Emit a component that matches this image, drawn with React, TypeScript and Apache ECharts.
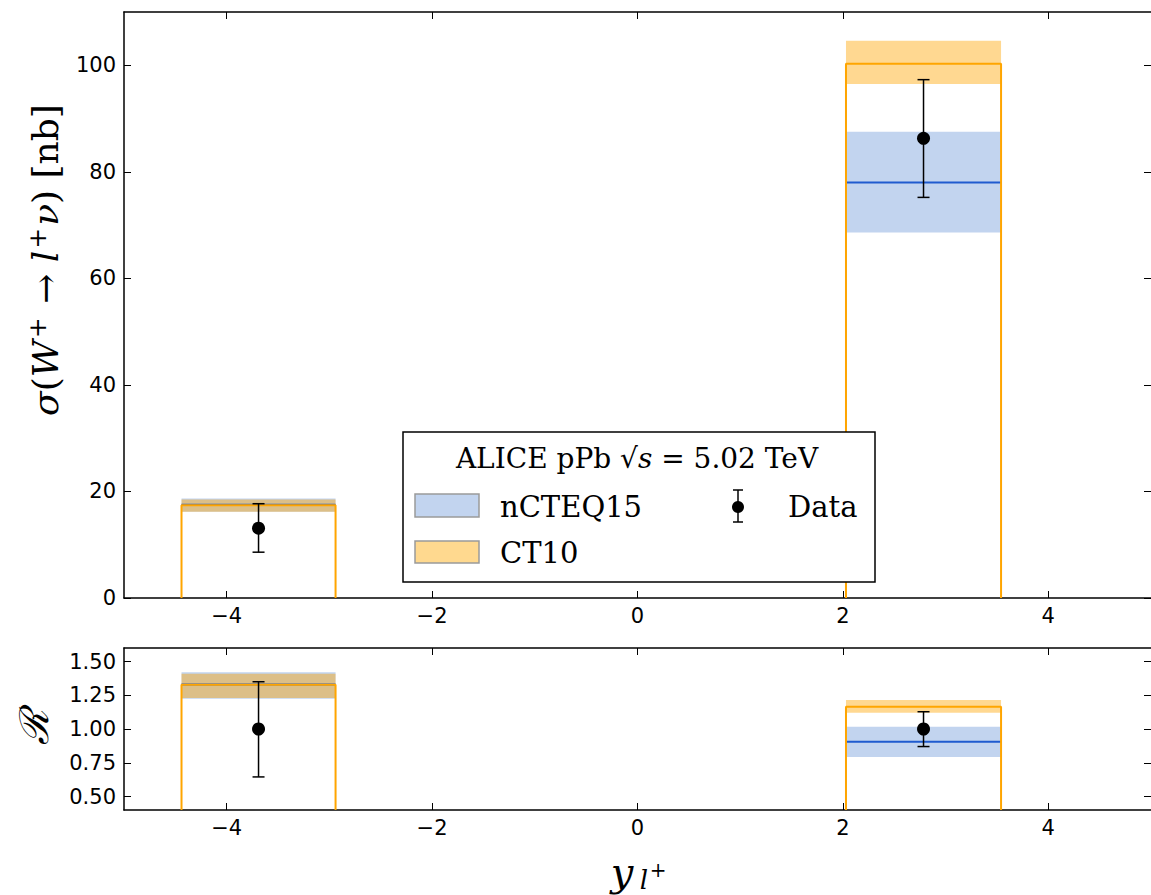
import React, { useEffect, useRef } from "react";
import * as echarts from "echarts";

// ---- data ----
const binLo = [-4.44, 2.03];
const binHi = [-2.94, 3.54];
const dataX = [-3.69, 2.785];

// cross section panel [nb]
const xsecData = [13.1, 86.3];
const xsecDataLo = [8.6, 75.2];
const xsecDataHi = [17.7, 97.3];
const xsecNCTEQ = [17.5, 78.0];
const xsecNCTEQLo = [16.2, 68.6];
const xsecNCTEQHi = [18.7, 87.5];
const xsecCT10 = [17.4, 100.3];
const xsecCT10Lo = [16.2, 96.5];
const xsecCT10Hi = [18.5, 104.6];

// ratio panel
const ratioData = [1.0, 1.0];
const ratioDataLo = [0.645, 0.87];
const ratioDataHi = [1.35, 1.128];
const ratioNCTEQ = [1.33, 0.905];
const ratioNCTEQLo = [1.225, 0.793];
const ratioNCTEQHi = [1.42, 1.016];
const ratioCT10 = [1.327, 1.165];
const ratioCT10Lo = [1.23, 1.12];
const ratioCT10Hi = [1.41, 1.215];

const xTicks = [-4, -2, 0, 2, 4];
const yTopTicks = [0, 20, 40, 60, 80, 100];
const yBotTicks = [0.5, 0.75, 1.0, 1.25, 1.5];

const X_MIN = -5, X_MAX = 5;
const YT_MIN = 0, YT_MAX = 110;
const YB_MIN = 0.4, YB_MAX = 1.6;

const BLUE_BAND = "#c2d4ef";
const BLUE_LINE = "#1f5bcf";
const ORANGE = "#ffa500";
const ORANGE_BAND = "rgba(255,165,0,0.43)";

const SANS = "DejaVu Sans";
const SERIF = "DejaVu Serif";

function bandData(lo: number[], hi: number[]) {
  return binLo.map((b, i) => [b, binHi[i], lo[i], hi[i]]);
}
function stepData(c: number[], base: number) {
  const out: any[] = [];
  binLo.forEach((b, i) => {
    if (i > 0) out.push([null, null]);
    out.push([b, base], [b, c[i]], [binHi[i], c[i]], [binHi[i], base]);
  });
  return out;
}
function hLineData(c: number[]) {
  const out: any[] = [];
  binLo.forEach((b, i) => {
    if (i > 0) out.push([null, null]);
    out.push([b, c[i]], [binHi[i], c[i]]);
  });
  return out;
}
function errData(v: number[], lo: number[], hi: number[]) {
  return dataX.map((x, i) => [x, lo[i], hi[i], v[i]]);
}

const bandRender = (fill: string) => (params: any, api: any) => {
  const p0 = api.coord([api.value(0), api.value(3)]);
  const p1 = api.coord([api.value(1), api.value(2)]);
  return {
    type: "rect",
    shape: { x: p0[0], y: p0[1], width: p1[0] - p0[0], height: p1[1] - p0[1] },
    style: { fill },
  };
};
const errRender = (params: any, api: any) => {
  const t = api.coord([api.value(0), api.value(2)]);
  const b = api.coord([api.value(0), api.value(1)]);
  const cap = 6;
  const st = { stroke: "#000", lineWidth: 1.5 };
  return {
    type: "group",
    children: [
      { type: "line", shape: { x1: t[0], y1: t[1], x2: b[0], y2: b[1] }, style: st },
      { type: "line", shape: { x1: t[0] - cap, y1: t[1], x2: t[0] + cap, y2: t[1] }, style: st },
      { type: "line", shape: { x1: b[0] - cap, y1: b[1], x2: b[0] + cap, y2: b[1] }, style: st },
    ],
  };
};

const fmtX = (v: number) => (v < 0 ? "\u2212" + Math.abs(v) : String(v));

function panelSeries(
  xi: number,
  yi: number,
  base: number,
  nLo: number[], nHi: number[], nC: number[],
  cLo: number[], cHi: number[], cC: number[],
  d: number[], dLo: number[], dHi: number[]
) {
  return [
    {
      type: "custom", xAxisIndex: xi, yAxisIndex: yi, renderItem: bandRender(BLUE_BAND),
      data: bandData(nLo, nHi), encode: { x: [0, 1], y: [2, 3] }, clip: true, z: 1,
    },
    {
      type: "custom", xAxisIndex: xi, yAxisIndex: yi, renderItem: bandRender(ORANGE_BAND),
      data: bandData(cLo, cHi), encode: { x: [0, 1], y: [2, 3] }, clip: true, z: 2,
    },
    {
      type: "line", xAxisIndex: xi, yAxisIndex: yi, data: hLineData(nC), showSymbol: false,
      connectNulls: false, lineStyle: { color: BLUE_LINE, width: 2 }, z: 3, clip: true,
    },
    {
      type: "line", xAxisIndex: xi, yAxisIndex: yi, data: stepData(cC, base), showSymbol: false,
      connectNulls: false, lineStyle: { color: ORANGE, width: 2 }, z: 4, clip: true,
    },
    {
      type: "custom", xAxisIndex: xi, yAxisIndex: yi, renderItem: errRender,
      data: errData(d, dLo, dHi), encode: { x: 0, y: [1, 2] }, z: 5,
    },
    {
      type: "scatter", xAxisIndex: xi, yAxisIndex: yi, data: dataX.map((x, i) => [x, d[i]]),
      symbolSize: 13, itemStyle: { color: "#000", opacity: 1 }, z: 6,
    },
  ];
}

export default function App() {
  const ref = useRef<HTMLDivElement>(null);
  useEffect(() => {
    if (!ref.current) return;
    const chart = echarts.init(ref.current, null, { renderer: "svg" });
    const axisLine = { show: true, onZero: false, lineStyle: { color: "#000", width: 1.5 } };
    const tick = (vals: number[]) => ({
      show: true, inside: true, length: 7, customValues: vals,
      lineStyle: { color: "#000", width: 1 },
    });
    const noLabel = { show: false };
    const lbl = (vals: number[], fmt: (v: number) => string, margin: number) => ({
      show: true, customValues: vals, formatter: fmt, fontFamily: SANS, fontSize: 21,
      color: "#000", margin,
    });
    const xAx = (grid: number, pos: string, show: boolean) => ({
      type: "value", gridIndex: grid, position: pos, min: X_MIN, max: X_MAX,
      axisLine, axisTick: tick(xTicks), splitLine: { show: false },
      axisLabel: show ? lbl(xTicks, fmtX, 7) : noLabel,
    });
    const yAx = (grid: number, pos: string, show: boolean, mn: number, mx: number, ticks: number[], fmt: any) => ({
      type: "value", gridIndex: grid, position: pos, min: mn, max: mx,
      axisLine: pos === "right" ? { show: false, onZero: false } : axisLine,
      axisTick: tick(ticks), splitLine: { show: false },
      axisLabel: show ? lbl(ticks, fmt, 8) : noLabel,
    });

    const legendG: any[] = [
      { type: "rect", shape: { x: 403, y: 432, width: 472, height: 150 },
        style: { fill: "#fff", stroke: "#000", lineWidth: 1.5 }, z: 100 },
      { type: "text", x: 637, y: 458, z: 101,
        style: {
          text: "{r|ALICE pPb \u221A}{i|s}{r| = 5.02 TeV}",
          align: "center", verticalAlign: "middle",
          rich: {
            r: { fontFamily: SERIF, fontSize: 28, fill: "#000" },
            i: { fontFamily: SERIF, fontSize: 28, fontStyle: "italic", fill: "#000" },
          },
        } },
      { type: "rect", shape: { x: 415, y: 494, width: 64, height: 23 },
        style: { fill: BLUE_BAND, stroke: "#9a9a9a", lineWidth: 1.5 }, z: 101 },
      { type: "rect", shape: { x: 415, y: 541, width: 64, height: 22 },
        style: { fill: "#ffd98f", stroke: "#9a9a9a", lineWidth: 1.5 }, z: 101 },
      { type: "text", x: 500, y: 507, z: 101,
        style: { text: "nCTEQ15", fontFamily: SERIF, fontSize: 29, fill: "#000", verticalAlign: "middle" } },
      { type: "text", x: 500, y: 553, z: 101,
        style: { text: "CT10", fontFamily: SERIF, fontSize: 29, fill: "#000", verticalAlign: "middle" } },
      { type: "line", shape: { x1: 738, y1: 490, x2: 738, y2: 522 }, style: { stroke: "#000", lineWidth: 1.5 }, z: 101 },
      { type: "line", shape: { x1: 733, y1: 490, x2: 743, y2: 490 }, style: { stroke: "#000", lineWidth: 1.5 }, z: 101 },
      { type: "line", shape: { x1: 733, y1: 522, x2: 743, y2: 522 }, style: { stroke: "#000", lineWidth: 1.5 }, z: 101 },
      { type: "circle", shape: { cx: 738, cy: 507, r: 6 }, style: { fill: "#000" }, z: 101 },
      { type: "text", x: 788, y: 507, z: 101,
        style: { text: "Data", fontFamily: SERIF, fontSize: 29, fill: "#000", verticalAlign: "middle" } },
    ];

    const labelsG: any[] = [
      { type: "text", x: 45, y: 260, rotation: Math.PI / 2, z: 50,
        style: {
          text: "{i|\u03C3}{r|(}{i|W}{s|+}{r| \u2192 }{i|l}{s|+}{i|\u03BD}{r|) [nb]}",
          align: "center", verticalAlign: "middle",
          rich: {
            r: { fontFamily: SERIF, fontSize: 36, fill: "#000" },
            i: { fontFamily: SERIF, fontSize: 36, fontStyle: "italic", fill: "#000" },
            s: { fontFamily: SERIF, fontSize: 25, fill: "#000", verticalAlign: "top", padding: [0, 2, 16, 2] },
          },
        } },
      { type: "text", x: 34, y: 727, rotation: Math.PI / 2, z: 50,
        style: { text: "\u211B", fontFamily: SERIF, fontSize: 40, fontStyle: "italic", fill: "#000",
          align: "center", verticalAlign: "middle" } },
      { type: "text", x: 622, y: 872, z: 50,
        style: { text: "y", fontFamily: SERIF, fontSize: 40, fontStyle: "italic", fill: "#000",
          align: "center", verticalAlign: "middle" } },
      { type: "text", x: 644, y: 880, z: 50,
        style: { text: "l", fontFamily: SERIF, fontSize: 26, fontStyle: "italic", fill: "#000",
          align: "center", verticalAlign: "middle" } },
      { type: "text", x: 658, y: 870, z: 50,
        style: { text: "+", fontFamily: SERIF, fontSize: 20, fill: "#000",
          align: "center", verticalAlign: "middle" } },
    ];

    chart.setOption({
      animation: false,
      backgroundColor: "#fff",
      grid: [
        { left: 124, top: 12, width: 1030, height: 586 },
        { left: 124, top: 648, width: 1030, height: 162 },
      ],
      xAxis: [xAx(0, "bottom", true), xAx(0, "top", false), xAx(1, "bottom", true), xAx(1, "top", false)],
      yAxis: [
        yAx(0, "left", true, YT_MIN, YT_MAX, yTopTicks, (v: number) => String(v)),
        yAx(0, "right", false, YT_MIN, YT_MAX, yTopTicks, null),
        yAx(1, "left", true, YB_MIN, YB_MAX, yBotTicks, (v: number) => v.toFixed(2)),
        yAx(1, "right", false, YB_MIN, YB_MAX, yBotTicks, null),
      ],
      series: [
        ...panelSeries(0, 0, YT_MIN, xsecNCTEQLo, xsecNCTEQHi, xsecNCTEQ, xsecCT10Lo, xsecCT10Hi, xsecCT10,
          xsecData, xsecDataLo, xsecDataHi),
        ...panelSeries(2, 2, YB_MIN, ratioNCTEQLo, ratioNCTEQHi, ratioNCTEQ, ratioCT10Lo, ratioCT10Hi, ratioCT10,
          ratioData, ratioDataLo, ratioDataHi),
      ],
      graphic: [...legendG, ...labelsG],
    });
    return () => chart.dispose();
  }, []);
  return (
    <div
      ref={ref}
      style={{ position: "fixed", left: 0, top: 0, width: 1151, height: 895, background: "#fff" }}
    />
  );
}
